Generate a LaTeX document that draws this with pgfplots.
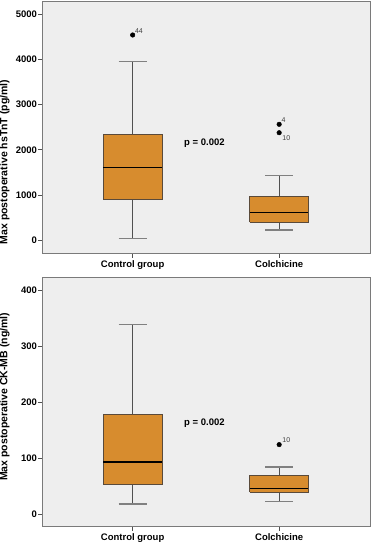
\documentclass[border=0pt]{standalone}
\usepackage{fontspec}
\setmainfont{Liberation Sans}
\usepackage{pgfplots}
\pgfplotsset{compat=1.18}
\definecolor{boxfill}{HTML}{D78C2E}
\definecolor{bgc}{HTML}{EEEEEE}
\definecolor{framec}{HTML}{7A7A7A}
\definecolor{boxedge}{HTML}{5A4A3A}
\definecolor{whisk}{HTML}{505050}
\definecolor{capc}{HTML}{808080}
\pgfplotsset{
  spssbox/.style={
    scale only axis,
    width=327.3pt,
    xmin=-0.614, xmax=1.62,
    xtick={0,1}, xticklabels={Control group,Colchicine},
    axis background/.style={fill=bgc},
    axis line style={framec, line width=1pt},
    tick align=outside,
    major tick length=4.5pt,
    xtick pos=bottom, ytick pos=left,
    tick style={whisk, line width=0.8pt},
    /pgf/number format/assume math mode=true,
    ticklabel style={font=\bfseries\fontsize{9.5}{11}\selectfont, text=black},
    label style={font=\bfseries\fontsize{10.5}{12}\selectfont},
    yticklabel style={inner sep=1pt},
    xticklabel style={inner sep=2pt, yshift=-1pt},
    scaled y ticks=false,
  },
  whiskline/.style={whisk, line width=0.9pt, mark=none},
  capline/.style={capc, line width=1.2pt, mark=none},
  boxshape/.style={draw=boxedge, fill=boxfill, line width=0.9pt, mark=none},
  medline/.style={black, line width=1.3pt, mark=none},
}
\tikzset{outl/.style={font=\fontsize{7}{8}\selectfont, text=black!75, inner sep=0pt}}
\begin{document}
\begin{tikzpicture}
\begin{axis}[spssbox, at={(42.7pt,-1pt)}, anchor=north west, height=252pt,
  ymin=-281, ymax=5294,
  ytick={0,1000,2000,3000,4000,5000},
  yticklabels={0,1000,2000,3000,4000,5000},
  ylabel={Max postoperative hsTnT (pg/ml)},
  ylabel style={at={(axis description cs:-0.116,0.361)}, anchor=center},
]
% Control group: whiskers 44 / 3951, quartiles 907 / 2336, median 1615
\addplot[whiskline] coordinates {(0,44) (0,907)};
\addplot[whiskline] coordinates {(0,2336) (0,3951)};
\addplot[capline] coordinates {(-0.095,44) (0.095,44)};
\addplot[capline] coordinates {(-0.095,3951) (0.095,3951)};
\addplot[boxshape] coordinates {(-0.2,907) (0.2,907) (0.2,2336) (-0.2,2336) (-0.2,907)};
\addplot[medline] coordinates {(-0.2,1615) (0.2,1615)};
% Colchicine: whiskers 228 / 1438, quartiles 398 / 980, median 619
\addplot[whiskline] coordinates {(1,228) (1,398)};
\addplot[whiskline] coordinates {(1,980) (1,1438)};
\addplot[capline] coordinates {(0.905,228) (1.095,228)};
\addplot[capline] coordinates {(0.905,1438) (1.095,1438)};
\addplot[boxshape] coordinates {(0.8,398) (1.2,398) (1.2,980) (0.8,980) (0.8,398)};
\addplot[medline] coordinates {(0.8,619) (1.2,619)};
% outliers
\addplot[only marks, mark=*, mark size=2.3pt, black] coordinates {(0,4542) (1,2566) (1,2380)};
\node[outl, anchor=south west, xshift=2.2pt, yshift=1.2pt] at (axis cs:0,4542) {44};
\node[outl, anchor=south west, xshift=2.2pt, yshift=1.2pt] at (axis cs:1,2566) {4};
\node[outl, anchor=north west, xshift=3pt, yshift=-3pt] at (axis cs:1,2380) {10};
\node[font=\bfseries\fontsize{9.5}{11}\selectfont] at (axis cs:0.49,2146) {p = 0.002};
\end{axis}
\begin{axis}[spssbox, at={(42.7pt,-277.3pt)}, anchor=north west, height=249pt,
  ymin=-22, ymax=423,
  ytick={0,100,200,300,400},
  yticklabels={0,100,200,300,400},
  ylabel={Max postoperative CK-MB (ng/ml)},
  ylabel style={at={(axis description cs:-0.116,0.52)}, anchor=center},
]
% Control group: whiskers 18 / 339, quartiles 52 / 178, median 93
\addplot[whiskline] coordinates {(0,18) (0,52)};
\addplot[whiskline] coordinates {(0,178) (0,339)};
\addplot[capline] coordinates {(-0.095,18) (0.095,18)};
\addplot[capline] coordinates {(-0.095,339) (0.095,339)};
\addplot[boxshape] coordinates {(-0.2,52) (0.2,52) (0.2,178) (-0.2,178) (-0.2,52)};
\addplot[medline] coordinates {(-0.2,93) (0.2,93)};
% Colchicine: whiskers 23 / 84, quartiles 39 / 68, median 45
\addplot[whiskline] coordinates {(1,23) (1,39)};
\addplot[whiskline] coordinates {(1,68) (1,84)};
\addplot[capline] coordinates {(0.905,23) (1.095,23)};
\addplot[capline] coordinates {(0.905,84) (1.095,84)};
\addplot[boxshape] coordinates {(0.8,39) (1.2,39) (1.2,68) (0.8,68) (0.8,39)};
\addplot[medline] coordinates {(0.8,45) (1.2,45)};
\addplot[only marks, mark=*, mark size=2.3pt, black] coordinates {(1,124)};
\node[outl, anchor=south west, xshift=3pt, yshift=1.5pt] at (axis cs:1,124) {10};
\node[font=\bfseries\fontsize{9.5}{11}\selectfont] at (axis cs:0.49,163) {p = 0.002};
\end{axis}
\pgfresetboundingbox
\path (0pt,0pt) rectangle (371pt,-546pt);
\end{tikzpicture}
\end{document}
